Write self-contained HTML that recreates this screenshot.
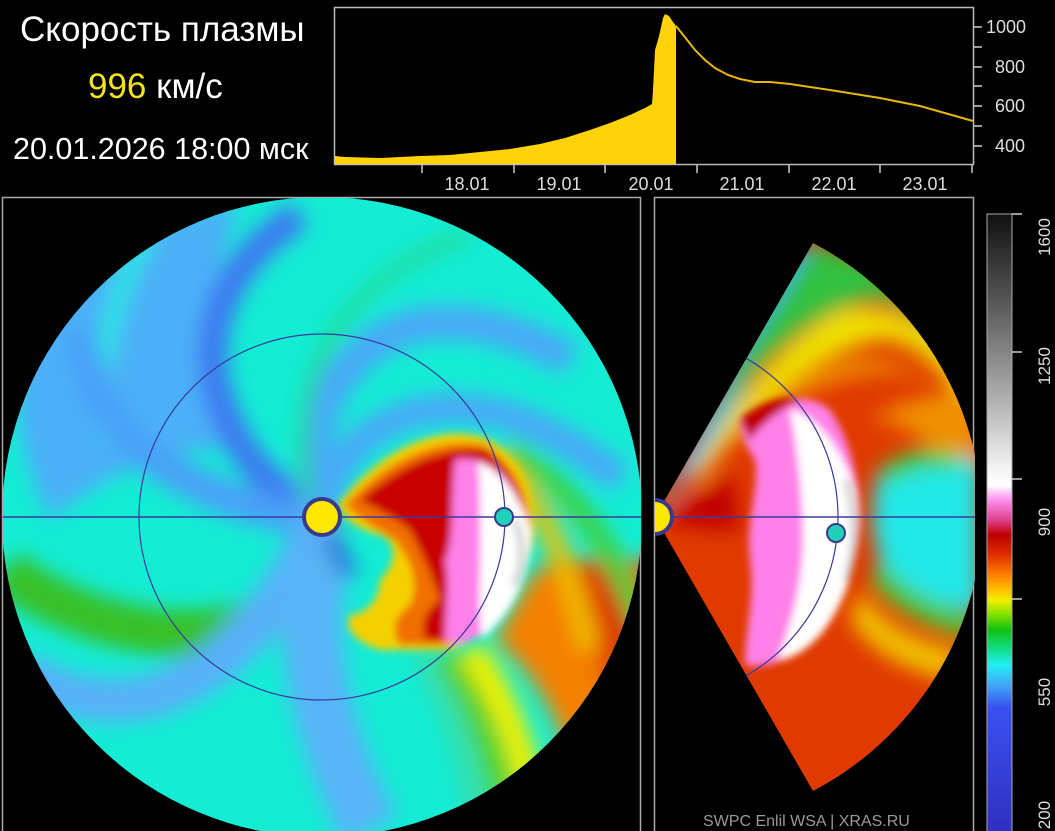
<!DOCTYPE html>
<html><head><meta charset="utf-8"><style>
html,body{margin:0;padding:0;background:#000;}
body{width:1055px;height:831px;overflow:hidden;position:relative;font-family:"Liberation Sans",sans-serif;color:#fff;}
.t{position:absolute;white-space:nowrap;}
</style></head><body>
<div class="t" style="left:20px;top:10px;font-size:35px;">Скорость плазмы</div>
<div class="t" style="left:88px;top:67px;font-size:35px;"><span style="color:#f5e31a">996</span> км/с</div>
<div class="t" style="left:13px;top:132px;font-size:30.5px;">20.01.2026 18:00 мск</div>
<svg width="1055" height="831" style="position:absolute;left:0;top:0" xmlns="http://www.w3.org/2000/svg">
<defs>
<filter id="b" x="-20%" y="-20%" width="140%" height="140%"><feGaussianBlur stdDeviation="10"/></filter>
<filter id="b2" x="-20%" y="-20%" width="140%" height="140%"><feGaussianBlur stdDeviation="4"/></filter>
<clipPath id="disc"><circle cx="322" cy="517" r="320"/></clipPath>
<clipPath id="lp"><rect x="3" y="198" width="638" height="633"/></clipPath>
<clipPath id="rp"><rect x="655" y="198" width="318" height="633"/></clipPath>
<clipPath id="wedge"><path d="M655,517 L813,243 A316,316 0 0 1 975,455 L975,580 A316,316 0 0 1 813,791 Z"/></clipPath>
<linearGradient id="cb" gradientUnits="userSpaceOnUse" x1="0" y1="214" x2="0" y2="831">
<stop offset="0" stop-color="#101010"/><stop offset="0.14" stop-color="#555"/><stop offset="0.30" stop-color="#b0b0b0"/><stop offset="0.415" stop-color="#f4f4f4"/><stop offset="0.44" stop-color="#fff"/><stop offset="0.463" stop-color="#ff90f0"/><stop offset="0.496" stop-color="#e04090"/><stop offset="0.52" stop-color="#c00000"/><stop offset="0.553" stop-color="#e03000"/><stop offset="0.585" stop-color="#ff8000"/><stop offset="0.61" stop-color="#ffc000"/><stop offset="0.626" stop-color="#f0f000"/><stop offset="0.65" stop-color="#80e000"/><stop offset="0.674" stop-color="#10c010"/><stop offset="0.707" stop-color="#10e090"/><stop offset="0.73" stop-color="#20f0f0"/><stop offset="0.763" stop-color="#40a8f8"/><stop offset="0.80" stop-color="#3a50f0"/><stop offset="1" stop-color="#3030c0"/>
</linearGradient>
</defs>
<!-- top chart -->
<rect x="334.5" y="7.5" width="639" height="157" fill="none" stroke="#bbb" stroke-width="1.5"/>
<path d="M335,164 L335,156 L345,157 L380,158 L420,156 L450,155 L480,152 L510,149 L540,144 L565,138 L590,130 L610,123 L630,115 L645,108 L652,104 L653,90 L655,50 L658,40 L660,32 L663,18 L665,14 L669,16 L673,22 L676,26 L676,164 Z" fill="#ffd20a"/>
<path d="M676,26 L684,36 L695,50 L705,60 L715,68 L728,75 L740,79 L755,82 L770,82 L790,84 L830,90 L880,98 L920,106 L973,121" fill="none" stroke="#e8b808" stroke-width="2"/>
<g stroke="#ccc" stroke-width="1.5">
<line x1="974" y1="27" x2="982" y2="27"/><line x1="974" y1="47" x2="982" y2="47"/><line x1="974" y1="67" x2="982" y2="67"/><line x1="974" y1="86" x2="982" y2="86"/><line x1="974" y1="106" x2="982" y2="106"/><line x1="974" y1="126" x2="982" y2="126"/><line x1="974" y1="146" x2="982" y2="146"/>
<line x1="422" y1="165" x2="422" y2="173"/><line x1="514" y1="165" x2="514" y2="173"/><line x1="605" y1="165" x2="605" y2="173"/><line x1="697" y1="165" x2="697" y2="173"/><line x1="789" y1="165" x2="789" y2="173"/><line x1="880" y1="165" x2="880" y2="173"/><line x1="972" y1="165" x2="972" y2="173"/>
</g>
<g fill="#ddd" font-size="18" font-family="Liberation Sans">
<text x="986" y="33">1000</text><text x="995" y="73">800</text><text x="995" y="112">600</text><text x="995" y="152">400</text>
<g text-anchor="middle"><text x="467" y="190">18.01</text><text x="559" y="190">19.01</text><text x="651" y="190">20.01</text><text x="742" y="190">21.01</text><text x="834" y="190">22.01</text><text x="925" y="190">23.01</text></g>
</g>
<!-- left panel -->
<rect x="2.5" y="197.5" width="638" height="640" fill="none" stroke="#aaa" stroke-width="1.5"/>
<g clip-path="url(#lp)"><g clip-path="url(#disc)">
<rect x="0" y="190" width="650" height="650" fill="#14ecd4"/>
<g filter="url(#b)">
<path d="M20,330 C60,250 160,210 240,205 C210,280 200,360 250,450 C180,440 110,470 50,520 C20,460 10,400 20,330Z" fill="#4cb0f8"/>
<path d="M150,230 C110,300 90,380 110,440" fill="none" stroke="#22e8e0" stroke-width="18"/>
<path d="M322,517 C270,490 230,450 215,380 C205,320 230,260 300,215" fill="none" stroke="#3e78f0" stroke-width="30"/>
<path d="M322,517 C280,520 220,500 170,470 C120,440 90,400 80,330" fill="none" stroke="#4aa0f8" stroke-width="34"/>
<path d="M322,517 C300,450 320,380 380,340 C430,310 500,320 570,360" fill="none" stroke="#48a8f8" stroke-width="34"/>
<path d="M322,517 C330,460 370,420 430,410 C490,400 560,430 620,480" fill="none" stroke="#48a8f8" stroke-width="30"/>
<path d="M310,500 C280,360 360,270 470,235" fill="none" stroke="#20d890" stroke-width="12"/>
<path d="M322,517 C320,600 260,640 160,632 C100,625 40,600 5,570" fill="none" stroke="#38c028" stroke-width="46"/>
<path d="M322,517 C290,590 240,660 170,690 C120,710 60,700 20,670" fill="none" stroke="#58b0f8" stroke-width="44"/>
<path d="M320,560 C300,640 320,730 370,830" fill="none" stroke="#58b4f8" stroke-width="60"/>
<path d="M332,535 C340,560 345,565 352,575" fill="none" stroke="#3050e8" stroke-width="14"/>
<path d="M420,650 C450,700 470,760 480,840" fill="none" stroke="#30e0b0" stroke-width="24"/>
<path d="M445,655 C480,705 500,770 510,840" fill="none" stroke="#50d020" stroke-width="26"/>
<path d="M470,650 C510,700 530,770 540,840" fill="none" stroke="#f0f000" stroke-width="28"/>
<path d="M495,640 C545,680 575,750 590,840 L700,840 L680,560 L535,570Z" fill="#f48000"/>
<path d="M545,560 C585,620 615,690 625,770 L680,700 L670,560Z" fill="#e04000"/>
<path d="M600,560 C620,600 635,640 640,680" fill="none" stroke="#d02000" stroke-width="20"/>
<path d="M505,450 C570,480 615,550 645,630" fill="none" stroke="#40d040" stroke-width="22"/>
<path d="M495,460 C545,500 570,570 590,650" fill="none" stroke="#f0c000" stroke-width="20"/>
</g>
<g filter="url(#b2)">
<path d="M338,505 C380,450 440,420 490,440 C520,460 535,490 535,530 C530,580 500,630 450,650 L380,650 C350,640 345,625 350,615 C365,615 380,600 380,580 C400,560 395,540 380,535 C360,530 345,520 338,505Z" fill="#f5d000"/>
<path d="M345,505 C385,460 440,435 485,445 C515,465 530,495 530,530 C525,578 495,625 450,645 L400,645 C390,630 395,615 410,605 C420,580 410,560 395,540 C370,525 355,515 345,505Z" fill="#f07000"/>
<path d="M360,500 C400,465 445,445 485,450 C512,468 526,498 526,530 C522,575 495,620 450,640 L425,640 C420,625 425,610 440,600 C430,570 420,550 410,530 C390,515 375,508 360,500Z" fill="#c80000"/>
<path d="M455,460 C480,455 505,470 518,500 C530,530 525,580 500,615 C480,640 460,648 445,640 C445,610 450,585 445,560 C455,540 450,500 455,460Z" fill="#ff80e8"/>
<path d="M478,462 C502,470 522,500 530,530 C532,575 512,615 482,638 C477,600 482,560 480,520 C480,500 480,480 478,462Z" fill="#ffffff"/>
<path d="M514,520 C524,540 524,565 514,585" fill="none" stroke="#c8c8c8" stroke-width="6"/>
</g>
</g></g>
<circle cx="322" cy="517" r="183" fill="none" stroke="#3a3a9a" stroke-width="1.2"/>
<line x1="3" y1="517" x2="641" y2="517" stroke="#3a3a9a" stroke-width="1.5"/>
<circle cx="322" cy="517" r="18" fill="#ffe800" stroke="#3a3a8a" stroke-width="4"/>
<circle cx="504" cy="517" r="9" fill="#20d0b8" stroke="#3a3a8a" stroke-width="2"/>
<!-- right panel -->
<rect x="654.5" y="197.5" width="319" height="640" fill="none" stroke="#aaa" stroke-width="1.5"/>
<g clip-path="url(#wedge)">
<rect x="650" y="230" width="330" height="570" fill="#e03a00"/>
<g filter="url(#b)">
<path d="M655,517 L780,260 L813,243 C800,300 740,400 700,460Z" fill="#40b0f8"/>
<path d="M680,480 C720,400 800,310 870,300 C930,300 960,380 975,400 L975,360 L870,260 L813,243 L740,360Z" fill="#30c040"/>
<path d="M700,480 C740,420 820,350 880,340 C930,340 960,400 975,420 L975,380 C940,320 880,300 840,310 C780,340 720,420 690,480Z" fill="#f0e000"/>
<path d="M740,440 C800,380 880,360 930,380 C960,400 975,430 975,450 L975,420 C950,380 900,360 860,360 C800,370 760,410 730,450Z" fill="#f0a000"/>
<path d="M870,420 C900,420 930,440 950,470 L980,470 L980,400 C950,390 910,395 870,420Z" fill="#f09000"/>
<path d="M880,470 C900,460 940,450 980,460 L980,610 C940,610 900,590 880,560 C870,530 870,500 880,470Z" fill="#20e8e8"/>
<path d="M880,470 C900,450 930,445 960,455 L960,470 C930,465 905,470 890,485Z" fill="#40d040"/>
<path d="M880,560 C905,590 935,605 975,615 L975,640 C930,630 890,610 870,580Z" fill="#50c830"/>
<path d="M860,590 C880,620 910,640 960,650 L950,680 C900,670 870,650 850,620Z" fill="#f0c000"/>
<path d="M660,515 C700,500 720,480 730,470 L740,530 C710,530 680,525 660,520Z" fill="#c00000"/>
</g>
<g filter="url(#b2)">
<path d="M740,420 C770,395 810,392 830,410 C850,440 860,480 860,520 C858,570 840,620 800,650 C780,665 760,668 745,665 C745,630 755,600 750,560 C745,520 760,490 755,460 C745,445 740,432 740,420Z" fill="#ff80e8"/>
<path d="M790,410 C818,415 842,450 856,490 C863,530 856,580 831,620 C816,645 792,660 778,660 C793,620 803,580 803,540 C803,500 798,450 790,410Z" fill="#ffffff"/>
<path d="M846,480 C856,510 856,550 846,580" fill="none" stroke="#c8c8c8" stroke-width="6"/>
<path d="M740,420 C760,400 790,395 800,400 C780,410 765,420 750,440Z" fill="#c00000"/>
</g>
</g>
<circle cx="655" cy="517" r="183" fill="none" stroke="#3a3a9a" stroke-width="1.2" clip-path="url(#wedge)"/>
<line x1="655" y1="517" x2="975" y2="517" stroke="#3a3a9a" stroke-width="1.5"/>
<g clip-path="url(#rp)"><circle cx="655" cy="517" r="17" fill="#ffe800" stroke="#3a3a8a" stroke-width="4"/></g>
<circle cx="836" cy="533" r="9" fill="#20d0b8" stroke="#3a3a8a" stroke-width="2"/>
<!-- colorbar -->
<rect x="987" y="214" width="25" height="620" fill="url(#cb)" stroke="#aaa" stroke-width="1"/>
<g stroke="#ccc" stroke-width="1.5"><line x1="1012" y1="214" x2="1022" y2="214"/><line x1="1012" y1="352" x2="1022" y2="352"/><line x1="1012" y1="479" x2="1022" y2="479"/><line x1="1012" y1="599" x2="1022" y2="599"/></g>
<g fill="#ddd" font-size="17" font-family="Liberation Sans">
<text transform="translate(1050,237) rotate(-90)" text-anchor="middle">1600</text>
<text transform="translate(1050,366) rotate(-90)" text-anchor="middle">1250</text>
<text transform="translate(1050,522) rotate(-90)" text-anchor="middle">900</text>
<text transform="translate(1050,692) rotate(-90)" text-anchor="middle">550</text>
<text transform="translate(1050,815) rotate(-90)" text-anchor="middle">200</text>
</g>
<text x="703" y="826" fill="#9a9a9a" font-size="16" font-family="Liberation Sans">SWPC Enlil WSA  |  XRAS.RU</text>
</svg>
</body></html>
